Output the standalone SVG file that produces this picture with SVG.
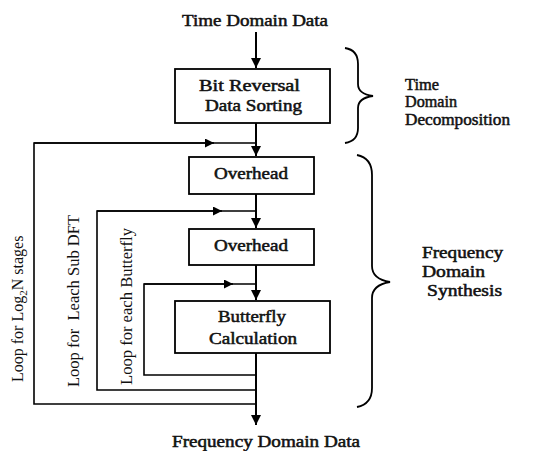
<svg xmlns="http://www.w3.org/2000/svg" width="534" height="451" viewBox="0 0 534 451">
<style>
.box{fill:#fff;stroke:#000;stroke-width:1.8}
.main{fill:none;stroke:#000;stroke-width:2}
.loop{fill:none;stroke:#000;stroke-width:1.6}
.brace{fill:none;stroke:#000;stroke-width:1.8}
.t{font-family:"Liberation Serif","Times New Roman",serif;font-size:16px;font-weight:normal;fill:#111;stroke:#111;stroke-width:0.5}
.r{font-family:"Liberation Serif","Times New Roman",serif;font-size:16px;fill:#111}
</style>
<defs>
<marker id="ah" viewBox="0 0 10 10" refX="10" refY="5" markerWidth="10" markerHeight="10" markerUnits="userSpaceOnUse" orient="auto">
<path d="M0,0 L10,5 L0,10 z" fill="#000"/>
</marker>
<marker id="ahs" viewBox="0 0 10 10" refX="10" refY="5" markerWidth="9" markerHeight="9" markerUnits="userSpaceOnUse" orient="auto">
<path d="M0,0 L10,5 L0,10 z" fill="#000"/>
</marker>
</defs>
<rect width="534" height="451" fill="#fff"/>

<g id="connectors">
<line class="main" x1="256" y1="32" x2="256" y2="68" marker-end="url(#ah)"/>
<line class="main" x1="256" y1="123" x2="256" y2="156" marker-end="url(#ah)"/>
<line class="main" x1="256" y1="194" x2="256" y2="228" marker-end="url(#ah)"/>
<line class="main" x1="256" y1="265" x2="256" y2="300" marker-end="url(#ah)"/>
<line class="main" x1="256" y1="353" x2="256" y2="425" marker-end="url(#ah)"/>
<polyline class="loop" points="256,404 34,404 34,143 256,143"/>
<line class="loop" x1="34" y1="143" x2="214" y2="143" marker-end="url(#ahs)"/>
<polyline class="loop" points="256,390 97,390 97,211 256,211"/>
<line class="loop" x1="97" y1="211" x2="222" y2="211" marker-end="url(#ahs)"/>
<polyline class="loop" points="256,375 144,375 144,284 256,284"/>
<line class="loop" x1="144" y1="284" x2="233" y2="284" marker-end="url(#ahs)"/>
</g>

<g id="input">
<text class="t" x="182" y="26" textLength="146" lengthAdjust="spacingAndGlyphs">Time Domain Data</text>
</g>

<g id="bit-reversal">
<rect class="box" x="175" y="69" width="155" height="54"/>
<text class="t" x="199" y="91" textLength="101" lengthAdjust="spacingAndGlyphs">Bit Reversal</text>
<text class="t" x="205" y="111" textLength="97" lengthAdjust="spacingAndGlyphs">Data Sorting</text>
</g>

<g id="overhead1">
<rect class="box" x="189" y="157" width="125" height="37"/>
<text class="t" x="214" y="179" textLength="74" lengthAdjust="spacingAndGlyphs">Overhead</text>
</g>

<g id="overhead2">
<rect class="box" x="189" y="229" width="125" height="36"/>
<text class="t" x="214" y="251" textLength="74" lengthAdjust="spacingAndGlyphs">Overhead</text>
</g>

<g id="butterfly">
<rect class="box" x="175" y="301" width="155" height="52"/>
<text class="t" x="218" y="322" textLength="68" lengthAdjust="spacingAndGlyphs">Butterfly</text>
<text class="t" x="209" y="344" textLength="88" lengthAdjust="spacingAndGlyphs">Calculation</text>
</g>

<g id="output">
<text class="t" x="172" y="447" textLength="188" lengthAdjust="spacingAndGlyphs">Frequency Domain Data</text>
</g>

<g id="loop-labels">
<text class="r" transform="translate(23,382) rotate(-90)">Loop for Log<tspan font-size="11" dy="4">2</tspan><tspan dy="-4">N stages</tspan></text>
<text class="r" transform="translate(79,387) rotate(-90)" xml:space="preserve" textLength="172" lengthAdjust="spacingAndGlyphs">Loop for  Leach Sub DFT</text>
<text class="r" transform="translate(132,385) rotate(-90)" textLength="157" lengthAdjust="spacingAndGlyphs">Loop for each Butterfly</text>
</g>

<g id="time-decomposition">
<path class="brace" d="M345,48 Q358,50 358,64 L358,84 Q358,94 373,96 Q358,98 358,108 L358,128 Q358,141 345,143"/>
<text class="t" x="405" y="90" textLength="34" lengthAdjust="spacingAndGlyphs">Time</text>
<text class="t" x="405" y="107" textLength="52" lengthAdjust="spacingAndGlyphs">Domain</text>
<text class="t" x="405" y="125" textLength="105" lengthAdjust="spacingAndGlyphs">Decomposition</text>
</g>

<g id="frequency-synthesis">
<path class="brace" d="M357,155 Q372,158 372,175 L372,266 Q372,279 390,282 Q372,285 372,298 L372,388 Q372,404 357,407"/>
<text class="t" x="422" y="258" textLength="81" lengthAdjust="spacingAndGlyphs">Frequency</text>
<text class="t" x="422" y="277" textLength="63" lengthAdjust="spacingAndGlyphs">Domain</text>
<text class="t" x="427" y="296" textLength="75" lengthAdjust="spacingAndGlyphs">Synthesis</text>
</g>
</svg>
